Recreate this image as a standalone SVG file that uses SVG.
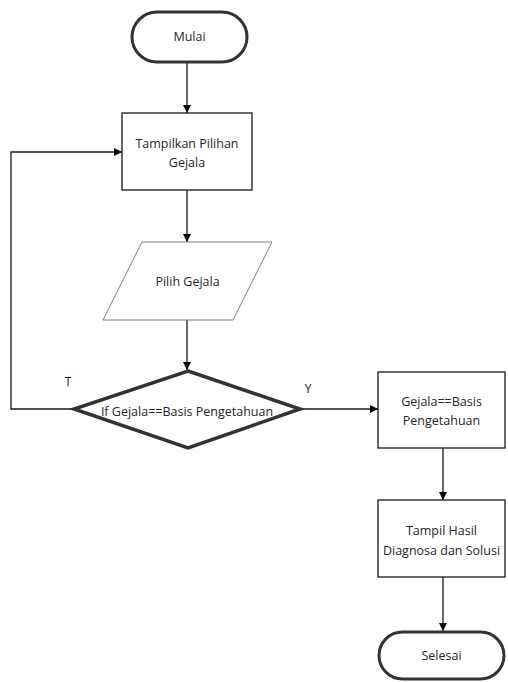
<svg xmlns="http://www.w3.org/2000/svg" width="508" height="682" viewBox="0 0 508 682">
  <style>
    text { font-family: "Open Sans", "Noto Sans", sans-serif; font-size: 12.5px; fill: #262626; text-anchor: middle; }
    .term { fill: #fff; stroke: #333; stroke-width: 3; }
    .proc { fill: #fff; stroke: #1a1a1a; stroke-width: 1.3; }
    .io { fill: #fff; stroke: #7f7f7f; stroke-width: 1; }
    .dec { fill: #fff; stroke: #333; stroke-width: 3.5; stroke-linejoin: miter; }
    .edge { fill: none; stroke: #1a1a1a; stroke-width: 1.3; }
    .lbl { font-size: 12px; fill: #1a1a1a; }
  </style>
  <defs>
    <marker id="arrow" viewBox="0 0 10 10" refX="10" refY="5" markerWidth="8" markerHeight="8" markerUnits="userSpaceOnUse" orient="auto">
      <path d="M0,0 L10,5 L0,10 z" fill="#000"/>
    </marker>
  </defs>

  <g id="connectors">
    <path class="edge" d="M187,62 V113" marker-end="url(#arrow)"/>
    <path class="edge" d="M187,190 V242" marker-end="url(#arrow)"/>
    <path class="edge" d="M187,320 V370" marker-end="url(#arrow)"/>
    <path class="edge" d="M73,409 H11 V152 H122" marker-end="url(#arrow)"/>
    <path class="edge" d="M300,409 H378" marker-end="url(#arrow)"/>
    <path class="edge" d="M443,448 V500" marker-end="url(#arrow)"/>
    <path class="edge" d="M443,577 V631" marker-end="url(#arrow)"/>
    <text class="lbl" x="68" y="386">T</text>
    <text class="lbl" x="308" y="393">Y</text>
  </g>

  <g id="mulai">
    <rect class="term" x="132" y="12" width="115" height="50" rx="25" ry="25"/>
    <text x="189.5" y="41">Mulai</text>
  </g>

  <g id="tampilkan-pilihan">
    <rect class="proc" x="122" y="113" width="130" height="77"/>
    <text x="187" y="148">Tampilkan Pilihan</text>
    <text x="187" y="167">Gejala</text>
  </g>

  <g id="pilih-gejala">
    <polygon class="io" points="142,242 272,242 233,320 103,320"/>
    <text x="187.5" y="286">Pilih Gejala</text>
  </g>

  <g id="cek-gejala">
    <polygon class="dec" points="188,371 300,409 188,448 74,409"/>
    <text x="187" y="416">If Gejala==Basis Pengetahuan</text>
  </g>

  <g id="gejala-cocok">
    <rect class="proc" x="378" y="372" width="127" height="76"/>
    <text x="441.5" y="406">Gejala==Basis</text>
    <text x="441.5" y="425">Pengetahuan</text>
  </g>

  <g id="tampil-hasil">
    <rect class="proc" x="378" y="500" width="127" height="77"/>
    <text x="441.5" y="535">Tampil Hasil</text>
    <text x="441.5" y="555">Diagnosa dan Solusi</text>
  </g>

  <g id="selesai">
    <rect class="term" x="379" y="632" width="125" height="47" rx="23.5" ry="23.5"/>
    <text x="441.5" y="660">Selesai</text>
  </g>
</svg>
